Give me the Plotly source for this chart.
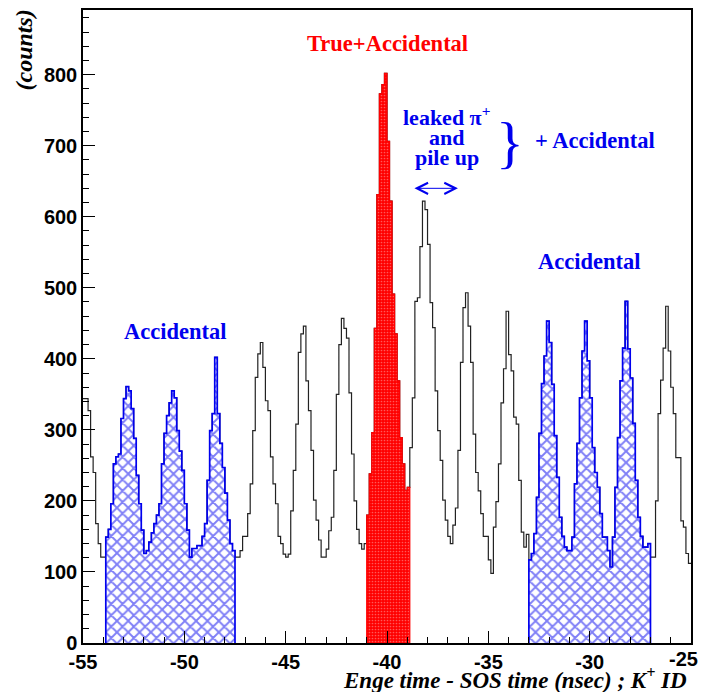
import plotly.graph_objects as go

# ---- data -------------------------------------------------------------
bin_start = -55.0
bin_width = 0.125
counts = [
    # -55.0 .. -53.875
    344, 344, 327, 262, 240, 168, 140, 121, 121,
    # -53.875 .. -47.5 (accidental, left)
    149, 160, 196, 252, 262, 266, 316, 344, 361, 355, 330, 288, 236, 196, 159, 126,
    130, 142, 155, 168, 180, 196, 252, 295, 320, 338, 355, 345, 299, 270, 243, 196,
    159, 121, 133, 133, 137, 137, 150, 168, 229, 299, 323, 402, 323, 281, 247, 211,
    173, 140, 130,
    # -47.5 .. -41.0
    121, 121, 130, 150, 150, 182, 224, 299, 374, 407, 423, 388, 341, 327, 262, 224,
    196, 150, 140, 125, 121, 125, 186, 243, 308, 409, 435, 446, 369, 327, 271, 201,
    173, 145, 121, 121, 132, 158, 177, 243, 350, 420, 457, 443, 429, 352, 266, 200,
    160, 140, 132, 140,
    # -41.0 .. -38.875 (true + accidental)
    180, 238, 296, 443, 631, 773, 786, 802, 706, 622, 491, 435, 369, 289, 252, 215, 219,
    # -38.875 .. -33.0
    275, 345, 481, 486, 558, 622, 610, 561, 479, 444, 355, 299, 257, 201, 173, 150,
    140, 166, 190, 271, 395, 472, 493, 446, 395, 294, 240, 214, 182, 150, 150, 117,
    98, 163, 199, 252, 338, 386, 467, 406, 383, 318, 308, 229, 156, 135, 153,
    # -33.0 .. -27.0 (accidental, right)
    117, 126, 154, 205, 295, 365, 404, 453, 423, 364, 292, 233, 177, 150, 135, 130,
    130, 149, 224, 281, 345, 411, 453, 397, 345, 275, 240, 219, 182, 149, 149, 130,
    107, 149, 219, 289, 369, 415, 481, 414, 373, 309, 229, 177, 150, 135, 135, 140,
    # -27.0 .. -25.0
    121, 121, 200, 323, 370, 415, 474, 411, 360, 323, 261, 261, 172, 163, 126, 112,
]
acc_left = (-53.875, -47.5)
true_win = (-41.0, -38.875)
acc_right = (-33.0, -27.0)

x_ticks = [-55, -50, -45, -40, -35, -30, -25]
y_ticks = [0, 100, 200, 300, 400, 500, 600, 700, 800]

edges = [bin_start + i * bin_width for i in range(len(counts) + 1)]


def step_xy(lo, hi):
    i0 = round((lo - bin_start) / bin_width)
    i1 = round((hi - bin_start) / bin_width)
    xs = [edges[i0]] + edges[i0:i1] + [edges[i1]]
    ys = [0] + counts[i0:i1] + [0]
    return xs, ys


BLUE = "#0000ee"
RED = "#ff0000"

fig = go.Figure()

# full histogram outline
xs_all = edges[:-1] + [edges[-1]]
ys_all = counts + [counts[-1]]
fig.add_trace(go.Scatter(x=xs_all, y=ys_all, mode="lines", line_shape="hv",
                         line=dict(color="#222222", width=1.2), hoverinfo="skip"))

for lo, hi in (acc_left, acc_right):
    xs, ys = step_xy(lo, hi)
    fig.add_trace(go.Scatter(
        x=xs, y=ys, mode="lines", line_shape="hv",
        line=dict(color=BLUE, width=1.7), fill="tozeroy", fillcolor="white",
        fillpattern=dict(shape="x", fgcolor=BLUE, bgcolor="white", size=8,
                         solidity=0.42),
        hoverinfo="skip"))

xs, ys = step_xy(*true_win)
fig.add_trace(go.Scatter(
    x=xs, y=ys, mode="lines", line_shape="hv",
    line=dict(color=RED, width=1.2), fill="tozeroy", fillcolor=RED,
    fillpattern=dict(shape=".", fgcolor="#ffb0b0", bgcolor=RED, size=3,
                     solidity=0.25),
    hoverinfo="skip"))

serif = "Liberation Serif"
sans = "Liberation Sans"
bfont = dict(family=serif, size=22.5, color=BLUE, weight="bold")
lfont = dict(family=serif, size=22, color=BLUE, weight="bold")
tfont = dict(family=sans, size=20, color="black", weight="bold")

ann = []
ann.append(dict(x=-40.0, y=844, text="True+Accidental", showarrow=False,
                font=dict(family=serif, size=22.5, color=RED, weight="bold")))
ann.append(dict(x=-37.04, y=742, text="leaked π<sup>+</sup>", showarrow=False,
                font=lfont))
ann.append(dict(x=-37.04, y=711, text="and", showarrow=False, font=lfont))
ann.append(dict(x=-37.04, y=684, text="pile up", showarrow=False, font=lfont))
ann.append(dict(x=-33.93, y=704, text="}", showarrow=False,
                font=dict(family=serif, size=58, color=BLUE)))
ann.append(dict(x=-29.74, y=707, text="+ Accidental", showarrow=False, font=bfont))
ann.append(dict(x=-50.46, y=439, text="Accidental", showarrow=False, font=bfont))
ann.append(dict(x=-30.03, y=537, text="Accidental", showarrow=False, font=bfont))
# double arrow
ann.append(dict(x=-36.50, y=640, ax=-38.72, ay=640, xref="x", yref="y",
                axref="x", ayref="y", text="", showarrow=True,
                arrowhead=5, startarrowhead=5, arrowside="end+start",
                arrowsize=2.2, startarrowsize=2.2, arrowwidth=1, arrowcolor=BLUE))
# last x tick label kept inside the visible page
ann.append(dict(x=x_ticks[-1], xref="x", xanchor="right", xshift=9, y=0,
                yref="paper", yanchor="top", yshift=-3, text=str(x_ticks[-1]),
                showarrow=False, font=tfont))
# axis titles
ann.append(dict(x=0, xref="paper", xanchor="center", xshift=-59, y=834, yref="y",
                text="(counts)", textangle=-90, showarrow=False,
                font=dict(family=serif, size=24, color="black", weight="bold",
                          style="italic")))
ann.append(dict(x=1, xref="paper", xanchor="right", xshift=-2, y=0, yref="paper",
                yanchor="middle", yshift=-35,
                text="Enge time - SOS time (nsec) ; K<sup>+</sup> ID", showarrow=False,
                font=dict(family=serif, size=23, color="black", weight="bold",
                          style="italic")))

fig.update_layout(
    width=700, height=684,
    margin=dict(l=75, r=17, t=0, b=49),
    plot_bgcolor="white", paper_bgcolor="white",
    showlegend=False,
    annotations=ann,
)
fig.update_xaxes(
    range=[-55, -25], tickvals=x_ticks,
    ticktext=[str(v) for v in x_ticks[:-1]] + [""],
    ticks="inside", ticklen=12, tickwidth=1, tickcolor="black",
    minor=dict(dtick=1, ticks="inside", ticklen=6, tickcolor="black"),
    showgrid=False, zeroline=False, showline=True, linecolor="black", linewidth=1.5,
    mirror=True,
    tickfont=tfont,
)
fig.update_yaxes(
    range=[0, 891], tickvals=y_ticks, ticktext=[str(v) for v in y_ticks],
    ticks="inside", ticklen=12, tickwidth=1, tickcolor="black",
    minor=dict(dtick=20, ticks="inside", ticklen=6, tickcolor="black"),
    showgrid=False, zeroline=False, showline=True, linecolor="black", linewidth=1.5,
    mirror=True,
    tickfont=tfont,
)

fig.write_html(
    "out.html",
    config=dict(displayModeBar=False),
    post_script="document.documentElement.style.overflow='hidden';document.body.style.overflow='hidden';",
)
